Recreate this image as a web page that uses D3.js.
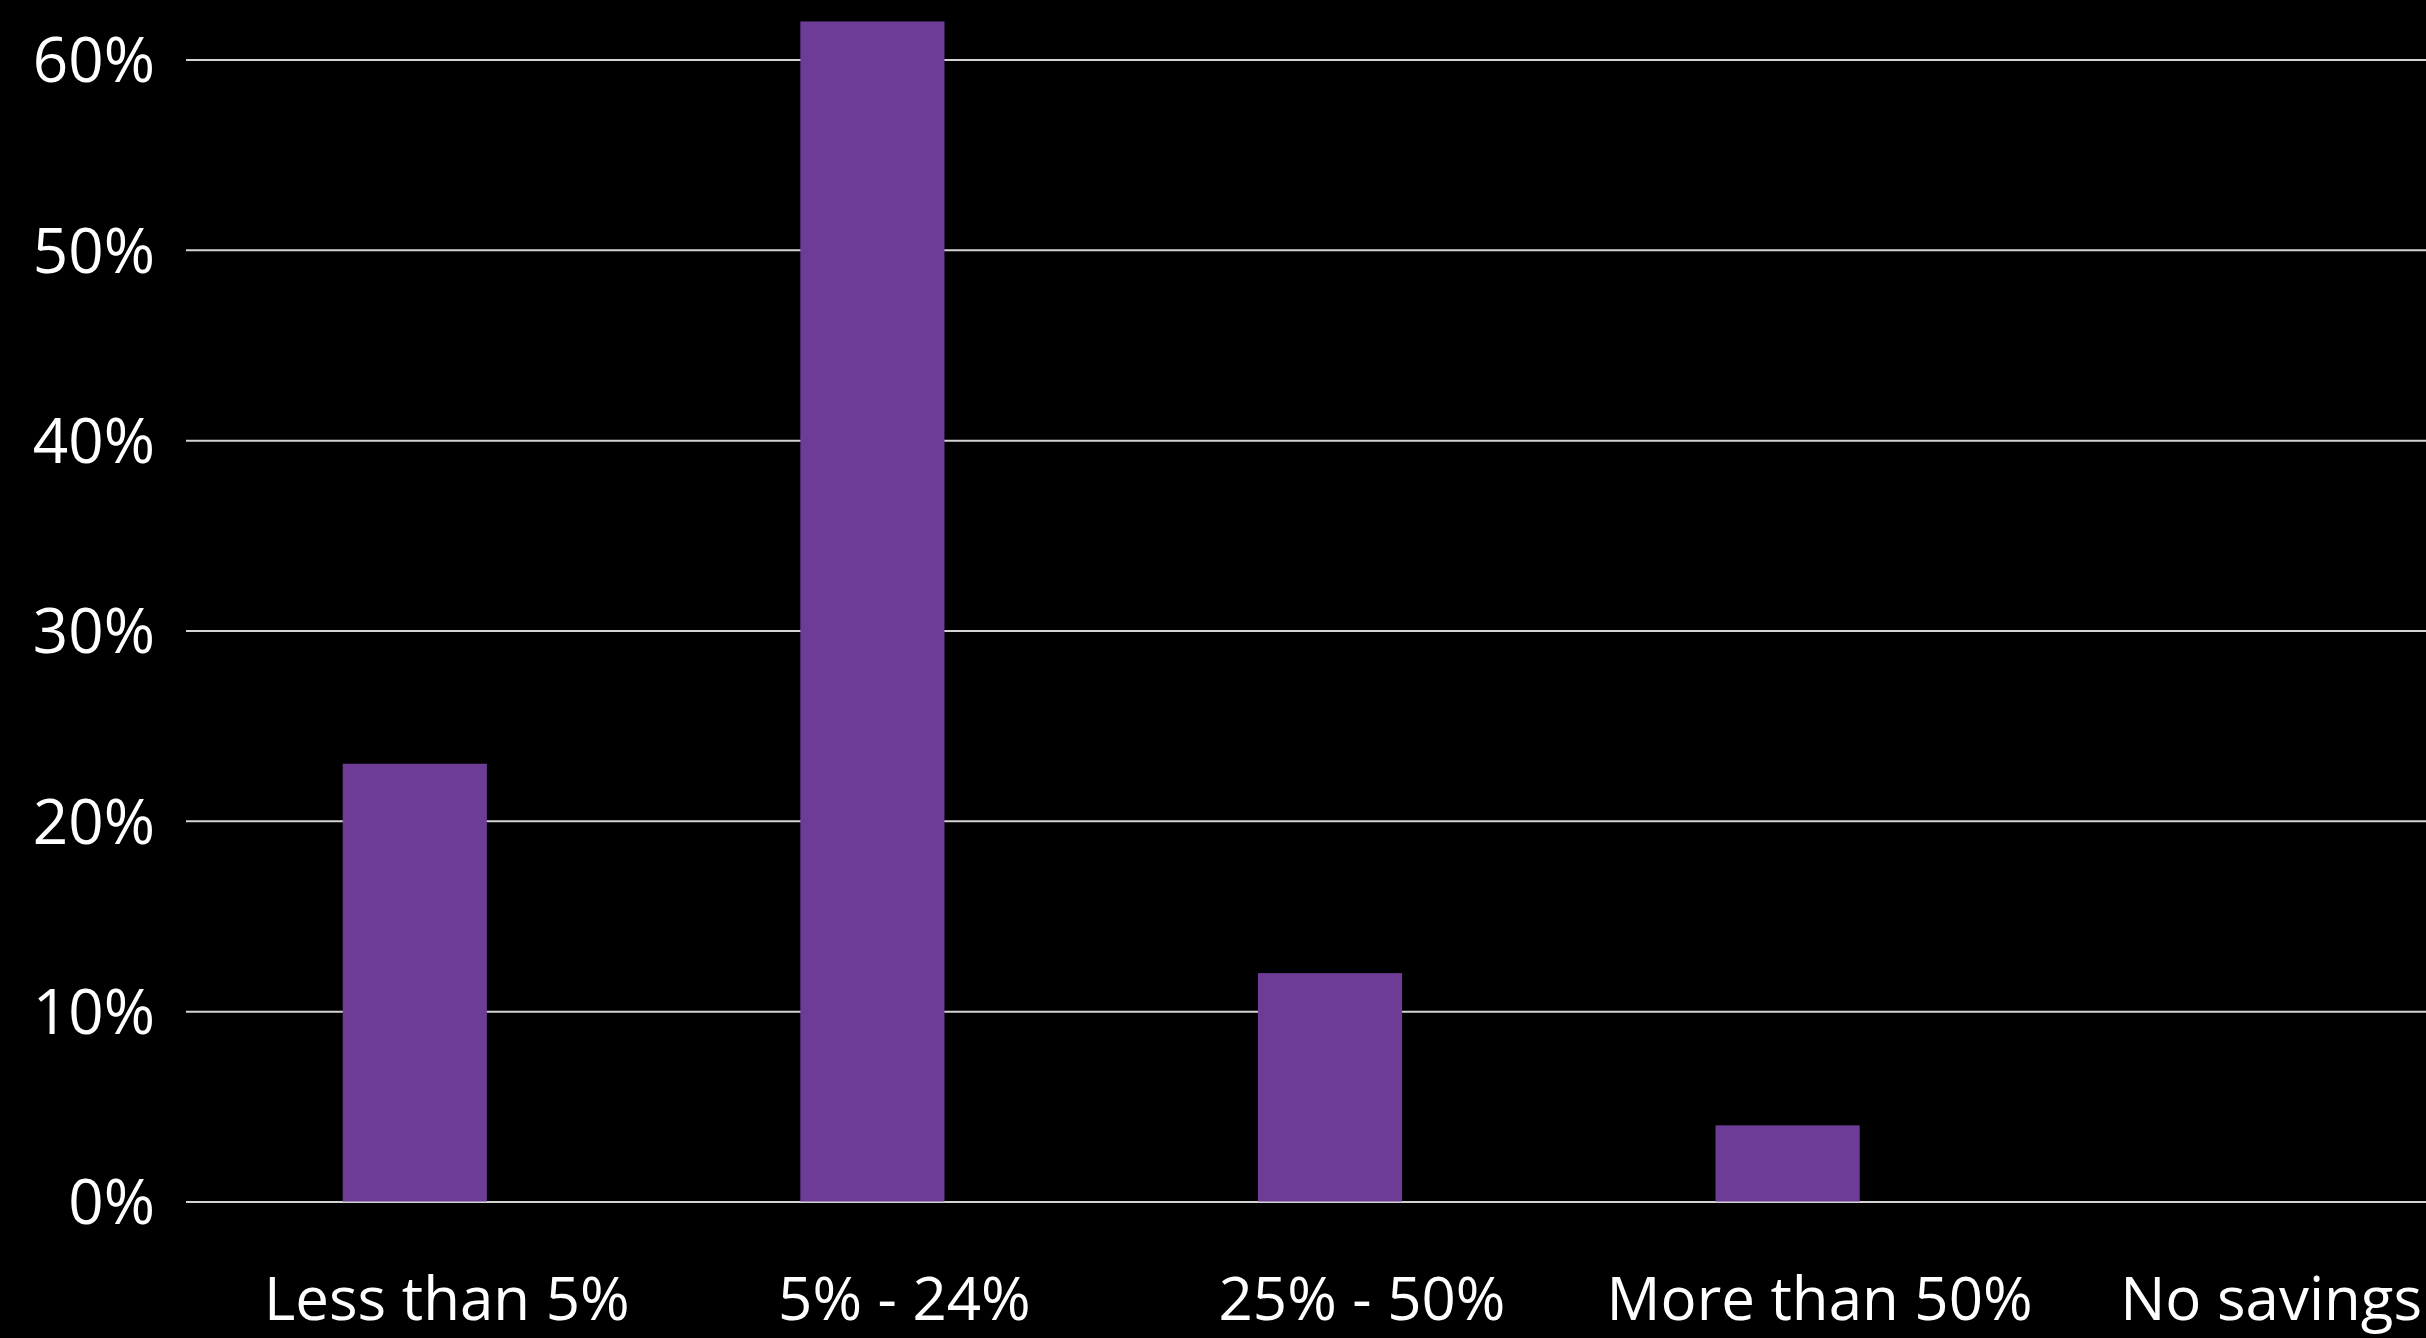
<!DOCTYPE html>
<html>
<head>
<meta charset="utf-8">
<script src="https://cdn.jsdelivr.net/npm/d3@7"></script>
<style>
  html, body { margin: 0; padding: 0; background: #000; }
  svg { display: block; }
  text { font-family: "Open Sans", "Noto Sans", sans-serif; fill: #fff; }
</style>
</head>
<body>
<svg id="chart" width="2426" height="1338"></svg>
<script>
const categories = ["Less than 5%", "5% - 24%", "25% - 50%", "More than 50%", "No savings"];
const shares = [23, 62, 12, 4, 0];
const yTicks = [0, 10, 20, 30, 40, 50, 60];

const W = 2426;
const svg = d3.select("#chart");
svg.append("rect").attr("width", W).attr("height", 1338).attr("fill", "#000");

// plot runs past the right edge, like the cropped slide
const x = d3.scaleBand()
  .domain(categories)
  .range([186, 2474])
  .paddingInner(0.685)
  .paddingOuter(0.3425);

const y = d3.scaleLinear().domain([0, 60]).range([1201.5, 59.5]);

// gridlines + y labels
const yAxis = d3.axisLeft(y)
  .tickValues(yTicks)
  .tickSize(-2400)
  .tickPadding(31)
  .tickFormat(d => d + "%");

const gy = svg.append("g").attr("transform", "translate(186,0)").call(yAxis);
gy.select(".domain").remove();
gy.selectAll(".tick line").attr("stroke", "#d4d4d4").attr("stroke-width", 2);
gy.selectAll(".tick text")
  .attr("font-size", 62)
  .attr("font-family", null)
  .attr("dy", "0.36em")
  .attr("fill", "#fff");

svg.append("g")
  .selectAll("rect")
  .data(categories)
  .enter()
  .append("rect")
  .attr("x", d => x(d))
  .attr("width", x.bandwidth())
  .attr("y", (d, i) => y(shares[i]))
  .attr("height", (d, i) => y(0) - y(shares[i]))
  .attr("fill", "#6d3c96");

// category labels sit a little right of the bar centres
svg.append("g")
  .selectAll("text")
  .data(categories)
  .enter()
  .append("text")
  .attr("y", 1320)
  .attr("text-anchor", "middle")
  .attr("font-size", 60)
  .text(d => d)
  .attr("x", function(d) {
    const cx = x(d) + x.bandwidth() / 2 + 32;
    const half = this.getComputedTextLength() / 2;
    return Math.min(cx, W - 4 - half); // keep the last one on the page
  });
</script>
</body>
</html>
